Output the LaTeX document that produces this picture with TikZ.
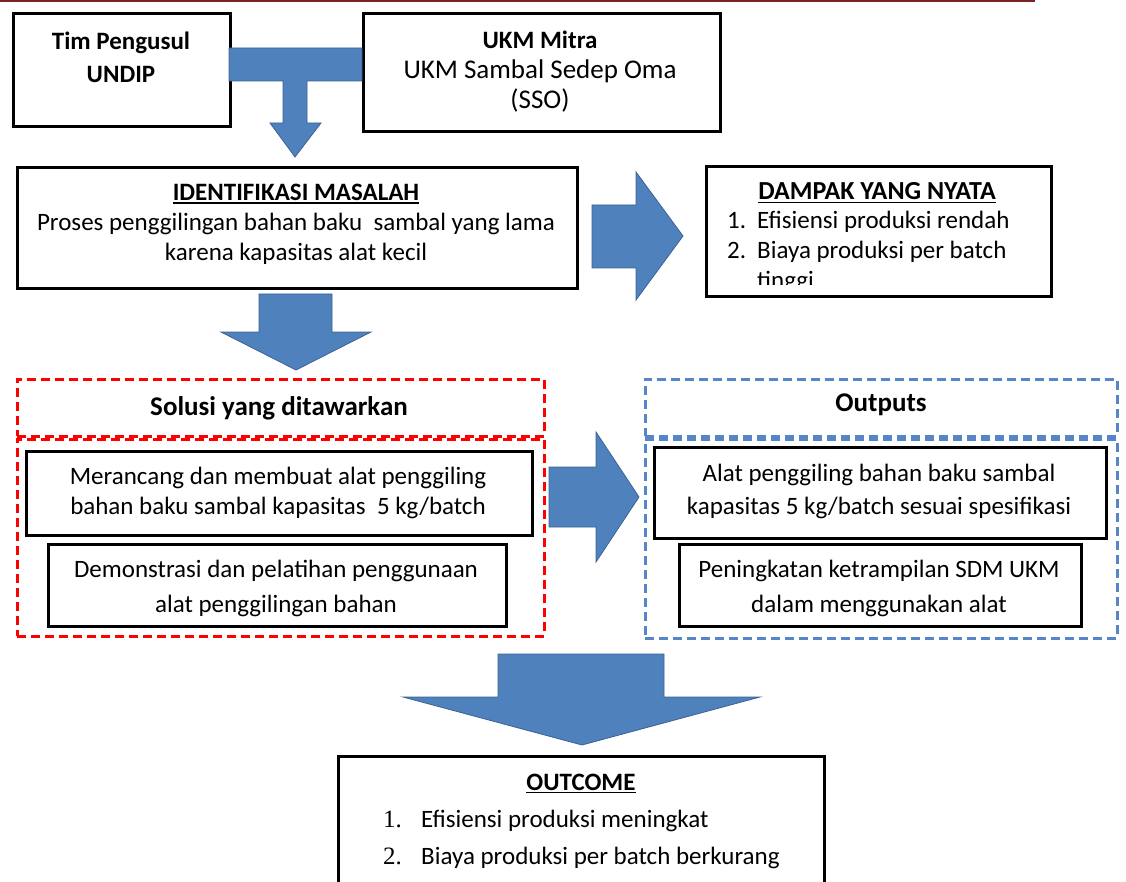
\documentclass[tikz,border=0pt]{standalone}
\usepackage{fontspec}
\setmainfont{Carlito}
\newfontfamily\angka{Liberation Serif}
\usetikzlibrary{positioning,shadows}

\definecolor{birupanah}{RGB}{79,129,189}
\definecolor{tepibiru}{RGB}{58,98,148}
\definecolor{birugaris}{RGB}{84,134,200}
\definecolor{merahtua}{RGB}{122,36,36}

% judul bergaris bawah tebal
\newcommand{\garisjudul}[1]{\leavevmode\vtop{\hbox{#1}\kern1.5pt\hrule height 1.8pt}}

\begin{document}
\begin{tikzpicture}[
  x=1pt, y=-1pt,
  font=\fontsize{25}{30}\selectfont,
  kotak/.style={draw, line width=2.6pt, fill=white, anchor=north west, inner sep=0pt,
                drop shadow={shadow xshift=1.5pt, shadow yshift=-1.5pt, opacity=.3}},
  bingkaimerah/.style={draw=red, line width=2.6pt, dash pattern=on 9pt off 5pt,
                anchor=north west, inner sep=0pt},
  bingkaibiru/.style={bingkaimerah, draw=birugaris},
  teks/.style={align=center, inner sep=0pt},
  judul/.style={teks, font=\fontsize{27}{30}\selectfont\bfseries},
  butir/.style={anchor=base west, inner sep=0pt},
  panah/.style={fill=birupanah, draw=tepibiru, line width=0.8pt}
]
  \useasboundingbox (0,0) rectangle (1126,882);
  \draw[merahtua, line width=2.5pt] (0,1) -- (1035,1);

  % Baris atas
  \node[kotak, minimum width=217, minimum height=113] (tim) at (12,12) {};
  \node[kotak, minimum width=357, minimum height=118] (ukm) at (362,12) {};
  \node[teks, font=\fontsize{25}{33}\selectfont\bfseries] (timteks) at (121,57) {Tim Pengusul\\UNDIP};
  \node[teks, font=\fontsize{27}{30}\selectfont] (ukmteks) at (540,72)
       {{\fontsize{25}{30}\selectfont\bfseries UKM Mitra}\\UKM Sambal Sedep Oma\\(SSO)};

  % Identifikasi dan dampak
  \node[kotak, minimum width=560, minimum height=121] (masalah) at (16,166) {};
  \node[teks] (masalahteks) at (296,224)
       {\textbf{\garisjudul{IDENTIFIKASI MASALAH}}\\Proses penggilingan bahan baku\ \ sambal yang lama\\karena kapasitas alat kecil};
  \node[kotak, minimum width=345, minimum height=130] (dampak) at (705,165) {};
  \node[teks, anchor=base, font=\fontsize{26}{30}\selectfont\bfseries] (dampakjudul) at (877,200)
       {\garisjudul{DAMPAK YANG NYATA}};
  \node[butir] (d1) at (727,229) {\makebox[30pt][l]{1.}Efisiensi produksi rendah};
  \node[butir] (d2) at (727,259) {\makebox[30pt][l]{2.}Biaya produksi per batch};
  \begin{scope}
    \clip (708,168) rectangle (1047,285);
    \node[butir] (d3) at (757,289) {tinggi};
  \end{scope}

  % Solusi
  \node[bingkaimerah, minimum width=527, minimum height=57] (solusi) at (16,378) {};
  \node[bingkaimerah, minimum width=527, minimum height=197] (solusibadan) at (16,438) {};
  \node[judul] (solusiteks) at (279,408) {Solusi yang ditawarkan};
  \node[kotak, minimum width=506, minimum height=84] (rancang) at (25,450) {};
  \node[teks] (rancangteks) at (278,493) {Merancang dan membuat alat penggiling\\bahan baku sambal kapasitas\ \ 5 kg/batch};
  \node[kotak, minimum width=458, minimum height=82] (demo) at (47,543) {};
  \node[teks, font=\fontsize{25}{35}\selectfont] (demoteks) at (276,588) {Demonstrasi dan pelatihan penggunaan\\alat penggilingan bahan};

  % Outputs
  \node[bingkaibiru, minimum width=472, minimum height=57] (outputs) at (644,378) {};
  \node[bingkaibiru, minimum width=472, minimum height=199] (outputsbadan) at (644,438) {};
  \node[judul] (outputsteks) at (881,405) {Outputs};
  \node[kotak, minimum width=452, minimum height=91] (alat) at (653,446) {};
  \node[teks, font=\fontsize{25}{33}\selectfont] (alatteks) at (879,491) {Alat penggiling bahan baku sambal\\kapasitas 5 kg/batch sesuai spesifikasi};
  \node[kotak, minimum width=402, minimum height=82] (sdm) at (678,543) {};
  \node[teks, font=\fontsize{25}{35}\selectfont] (sdmteks) at (879,588) {Peningkatan ketrampilan SDM UKM\\dalam menggunakan alat};

  % Outcome
  \node[kotak, minimum width=486, minimum height=140] (outcome) at (337,755) {};
  \node[teks, anchor=base, font=\fontsize{25}{30}\selectfont\bfseries] (outcomejudul) at (581,790)
       {\garisjudul{OUTCOME}};
  \node[butir] (o1) at (383,827) {\makebox[38pt][l]{\angka 1.}Efisiensi produksi meningkat};
  \node[butir] (o2) at (383,864) {\makebox[38pt][l]{\angka 2.}Biaya produksi per batch berkurang};

  % Panah blok
  \draw[panah] (229,48) -- (362,48) -- (362,81) -- (307,81) -- (307,123) -- (321,123)
               -- (295,157) -- (270,123) -- (283,123) -- (283,81) -- (229,81) -- cycle;
  \draw[panah] (592,205) -- (636,205) -- (636,172) -- (683,236) -- (636,300)
               -- (636,268) -- (592,268) -- cycle;
  \draw[panah] (259,294) -- (332,294) -- (332,332) -- (371,332) -- (296,370)
               -- (221,332) -- (259,332) -- cycle;
  \draw[panah] (549,467) -- (596,467) -- (596,432) -- (639,497) -- (596,562)
               -- (596,527) -- (549,527) -- cycle;
  \draw[panah] (498,654) -- (664,654) -- (664,697) -- (760,697) -- (582,745)
               -- (403,697) -- (498,697) -- cycle;
\end{tikzpicture}
\end{document}
